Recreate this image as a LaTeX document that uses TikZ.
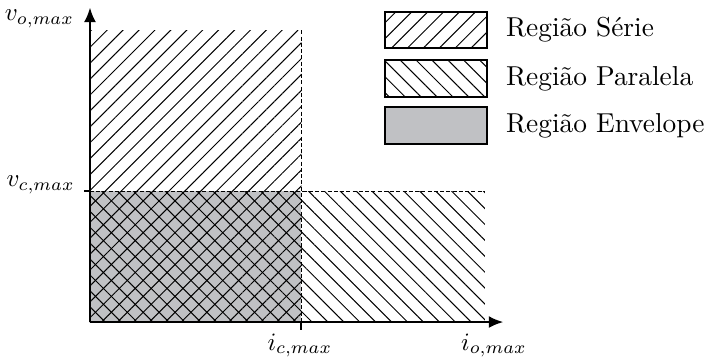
\documentclass[tikz,border=0pt,11pt]{standalone}
\usepackage{amsmath}
\usepackage{xcolor}
\usepackage{tikz}
\usetikzlibrary{positioning,arrows.meta,patterns.meta}
\definecolor{envgray}{RGB}{192,193,196}

\begin{document}
\begin{tikzpicture}[
        axis/.style={thick, -{Latex[length=5.8pt,width=4.8pt]}},
        guide/.style={thin, dash pattern=on 1.6pt off 0.9pt},
        serie/.style={pattern={Lines[angle=45,distance=4.5pt,line width=0.4pt]}},
        paralela/.style={pattern={Lines[angle=-45,distance=4.5pt,line width=0.4pt]}},
        legbox/.style={draw, thick, minimum width=1.43cm, minimum height=0.51cm, inner sep=0pt},
        lbl/.style={font=\small}
      ]
        \useasboundingbox (-1.265,-0.534) rectangle (8.744,4.527);
        \coordinate (o) at (0,0);
        \coordinate (xend) at (5.81,0);
        \coordinate (yend) at (0,4.42);
        \coordinate (ic) at (2.97,0);
        \coordinate (vc) at (0,1.84);
        \coordinate (ctop) at (2.97,4.10);
        \coordinate (pend) at (5.55,1.84);
        \coordinate (ictick) at (2.97,-0.11);
        \coordinate (vctick) at (-0.09,1.84);
        % regioes
        \fill[envgray] (o) rectangle (2.97,1.84);
        \path[serie] (o) rectangle (ctop);
        \path[paralela] (o) rectangle (pend);
        \draw[guide] (ctop) -- (ic);
        \draw[guide] (vc) -- (pend);
        \draw[thick] (ic) -- (ictick);
        \draw[thick] (vc) -- (vctick);
        % eixos
        \draw[axis] (o) -- (xend);
        \draw[axis] (o) -- (yend);
        \node[lbl, anchor=east] (vomax) at (-0.09,4.26) {$v_{o,max}$};
        \node[lbl, anchor=east] (vcmax) at (-0.08,1.93) {$v_{c,max}$};
        \node[lbl] (icmax) at (2.95,-0.33) {$i_{c,max}$};
        \node[lbl] (iomax) at (5.68,-0.33) {$i_{o,max}$};
        % legenda
        \node[legbox, serie] (lg1) at (4.864,4.105) {};
        \node[legbox, paralela] (lg2) at (4.864,3.423) {};
        \node[legbox, fill=envgray] (lg3) at (4.864,2.762) {};
        \node[right=1.2mm of lg1] (lt1) {Região Série};
        \node[right=1.2mm of lg2] (lt2) {Região Paralela};
        \node[right=1.2mm of lg3] (lt3) {Região Envelope};
      \end{tikzpicture}
\end{document}
